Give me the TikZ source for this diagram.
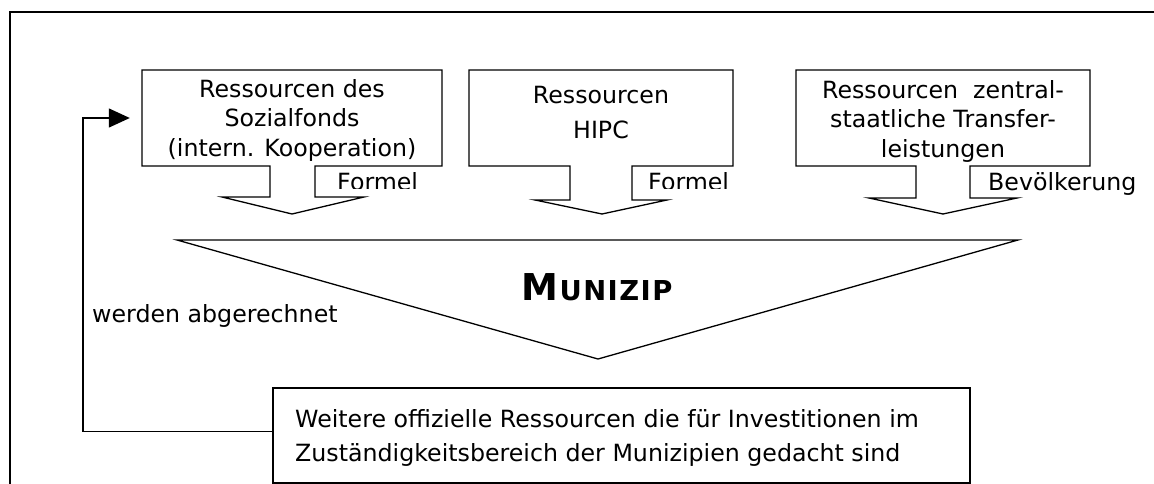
\documentclass[tikz,border=0pt]{standalone}
\usepackage{fontspec}
\setmainfont{DejaVu Sans}
\usetikzlibrary{arrows.meta}
\begin{document}
\begin{tikzpicture}[x=1pt,y=-1pt,
  ln/.style={line width=1.3pt},
  txt/.style={inner sep=0pt, font=\fontsize{23.7}{29.5}\selectfont},
  frame/.style={inner sep=0pt, draw=none}]
\useasboundingbox (0,0) rectangle (1154,484);
% outer frame
\draw[ln] (10,484) -- (10,12) -- (1154,12);
% box frames (named areas)
\node[frame, minimum width=300pt, minimum height=96pt] (b1) at (292,118) {};
\node[frame, minimum width=264pt, minimum height=96pt] (b2) at (601,118) {};
\node[frame, minimum width=294pt, minimum height=96pt] (b3) at (943,118) {};
% callout outlines
\draw[ln] (270,166) -- (142,166) -- (142,70) -- (442,70) -- (442,166) -- (315,166)
  -- (315,197) -- (364,197) -- (292,214) -- (222,197) -- (270,197) -- cycle;
\draw[ln] (570,166) -- (469,166) -- (469,70) -- (733,70) -- (733,166) -- (632,166)
  -- (632,200) -- (667,200) -- (602,214) -- (535,200) -- (570,200) -- cycle;
\draw[ln] (916,166) -- (796,166) -- (796,70) -- (1090,70) -- (1090,166) -- (970,166)
  -- (970,198) -- (1017,198) -- (943,214) -- (869,198) -- (916,198) -- cycle;
% box texts
\node[txt, anchor=north, align=center] (t1) at (292,79)
  {Ressourcen des\\Sozialfonds\\(intern. Kooperation)};
\node[txt, anchor=north, align=center, font=\fontsize{23.7}{35}\selectfont] (t2) at (601,85.7)
  {Ressourcen\\HIPC};
\node[txt, anchor=north, align=center] (t3) at (943,80)
  {Ressourcen\ \ zentral-\\staatliche Transfer-\\leistungen};
% labels on the stems
\begin{scope}
\clip (300,150) rectangle (760,188.5);
\node[txt, anchor=base west] (f1) at (337,190) {Formel};
\node[txt, anchor=base west] (f2) at (648,190) {Formel};
\end{scope}
\node[txt, anchor=base west] (f3) at (988,190) {Bevölkerung};
% big triangle
\draw[ln] (177,240) -- (1018,240) -- (598,359) -- cycle;
\node[inner sep=0pt, anchor=base west, font=\bfseries] (mun) at (521,300)
  {{\fontsize{37}{37}\selectfont M}\kern1.5pt{\fontsize{27.4}{30}\selectfont U\kern1.5pt N\kern1.5pt I\kern1.5pt Z\kern1.5pt I\kern1.5pt P}};
% bottom box
\node[draw, ln, inner sep=0pt, minimum width=697pt, minimum height=95pt] (bot) at (621.5,435.5) {};
\node[txt, anchor=north west, align=left, font=\fontsize{23.7}{34}\selectfont] (bt) at (295,409)
  {Weitere offizielle Ressourcen die für Investitionen im\\Zuständigkeitsbereich der Munizipien gedacht sind};
% feedback
\coordinate (fbx) at (83,0);
\draw[ln, -{Triangle[length=21pt,width=19pt]}, shorten >=12pt]
  ([yshift=4pt]bot.west) -- ([yshift=4pt]bot.west -| fbx) |- (b1.west);
\node[txt, anchor=base west] (wa) at (92,322) {werden abgerechnet};
\end{tikzpicture}
\end{document}
